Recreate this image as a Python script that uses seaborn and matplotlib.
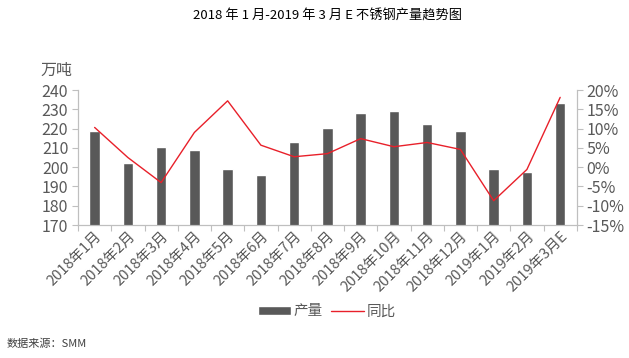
import numpy as np
import pandas as pd
import seaborn as sns
import matplotlib.pyplot as plt

months = ['2018年1月', '2018年2月', '2018年3月', '2018年4月', '2018年5月', '2018年6月',
          '2018年7月', '2018年8月', '2018年9月', '2018年10月', '2018年11月', '2018年12月',
          '2019年1月', '2019年2月', '2019年3月E']
output = [219, 202, 210.5, 209, 199, 196, 213, 220.5, 228, 229, 222.5, 219, 199, 197.5, 233.5]
yoy = [10.3, 2.5, -4.0, 9.0, 17.2, 5.7, 2.7, 3.5, 7.4, 5.3, 6.4, 4.6, -8.7, -0.6, 18.1]

sns.set_theme(style="white")
plt.rcParams['font.family'] = ['Noto Sans CJK SC', 'DejaVu Sans']
text_col = '#595959'
bar_col = '#595959'
line_col = '#E8202A'

df = pd.DataFrame({'month': months, 'output': output, 'yoy': yoy})
df['pos'] = np.arange(len(df))

fig = plt.figure(figsize=(6.29, 3.58), dpi=100)
ax = fig.add_axes([0.124, 0.3715, 0.793, 0.377])

sns.barplot(data=df, x='month', y='output', color=bar_col, width=0.32,
            saturation=1, ax=ax, label='产量')
ax.set_ylim(170, 240)
ax.set_yticks(range(170, 241, 10))
ax.set_xlim(-0.5, len(df) - 0.5)
ax.set_xlabel('')
ax.set_ylabel('')
if ax.get_legend() is not None:
    ax.get_legend().remove()

ax2 = ax.twinx()
sns.lineplot(data=df, x='pos', y='yoy', color=line_col, linewidth=1.0, ax=ax2, label='同比')
ax2.set_ylim(-15, 20)
ax2.set_yticks(range(-15, 21, 5))
ax2.set_yticklabels([f'{v}%' for v in range(-15, 21, 5)])
ax2.set_ylabel('')
ax2.set_xlabel('')
ax2.get_legend().remove()

for a in (ax, ax2):
    a.spines['top'].set_visible(False)
    for s in ['left', 'right', 'bottom']:
        a.spines[s].set_color('#BFBFBF')
        a.spines[s].set_linewidth(0.8)
    a.tick_params(axis='y', colors=text_col, labelsize=11.5, length=4, width=0.8,
                  color='#BFBFBF', pad=3)

# category labels, tick marks between categories
ax.set_xticks(np.arange(len(df)))
ax.set_xticklabels(months, rotation=45, ha='right', rotation_mode='anchor',
                   fontsize=10.5, color=text_col)
ax.tick_params(axis='x', length=0, pad=3)
ax.set_xticks(np.arange(-0.5, len(df), 1), minor=True)
ax.tick_params(axis='x', which='minor', bottom=True, length=4, width=0.8, color='#BFBFBF')

fig.text(0.09, 0.79, '万吨', fontsize=11.5, color=text_col, ha='center')
fig.text(0.52, 0.955, '2018 年 1 月-2019 年 3 月 E 不锈钢产量趋势图', fontsize=9.5,
         color='black', ha='center', va='center')

h1, l1 = ax.get_legend_handles_labels()
h2, l2 = ax2.get_legend_handles_labels()
fig.legend(h1 + h2, l1 + l2, loc='center', bbox_to_anchor=(0.52, 0.13), ncol=2,
           frameon=False, fontsize=10.5, labelcolor=text_col, handlelength=2.2,
           handleheight=0.6, columnspacing=0.6, handletextpad=0.2)

fig.text(0.01, 0.03, '数据来源：SMM', fontsize=8, color='#404040', style='italic')

fig.savefig('out.png', dpi=100)
